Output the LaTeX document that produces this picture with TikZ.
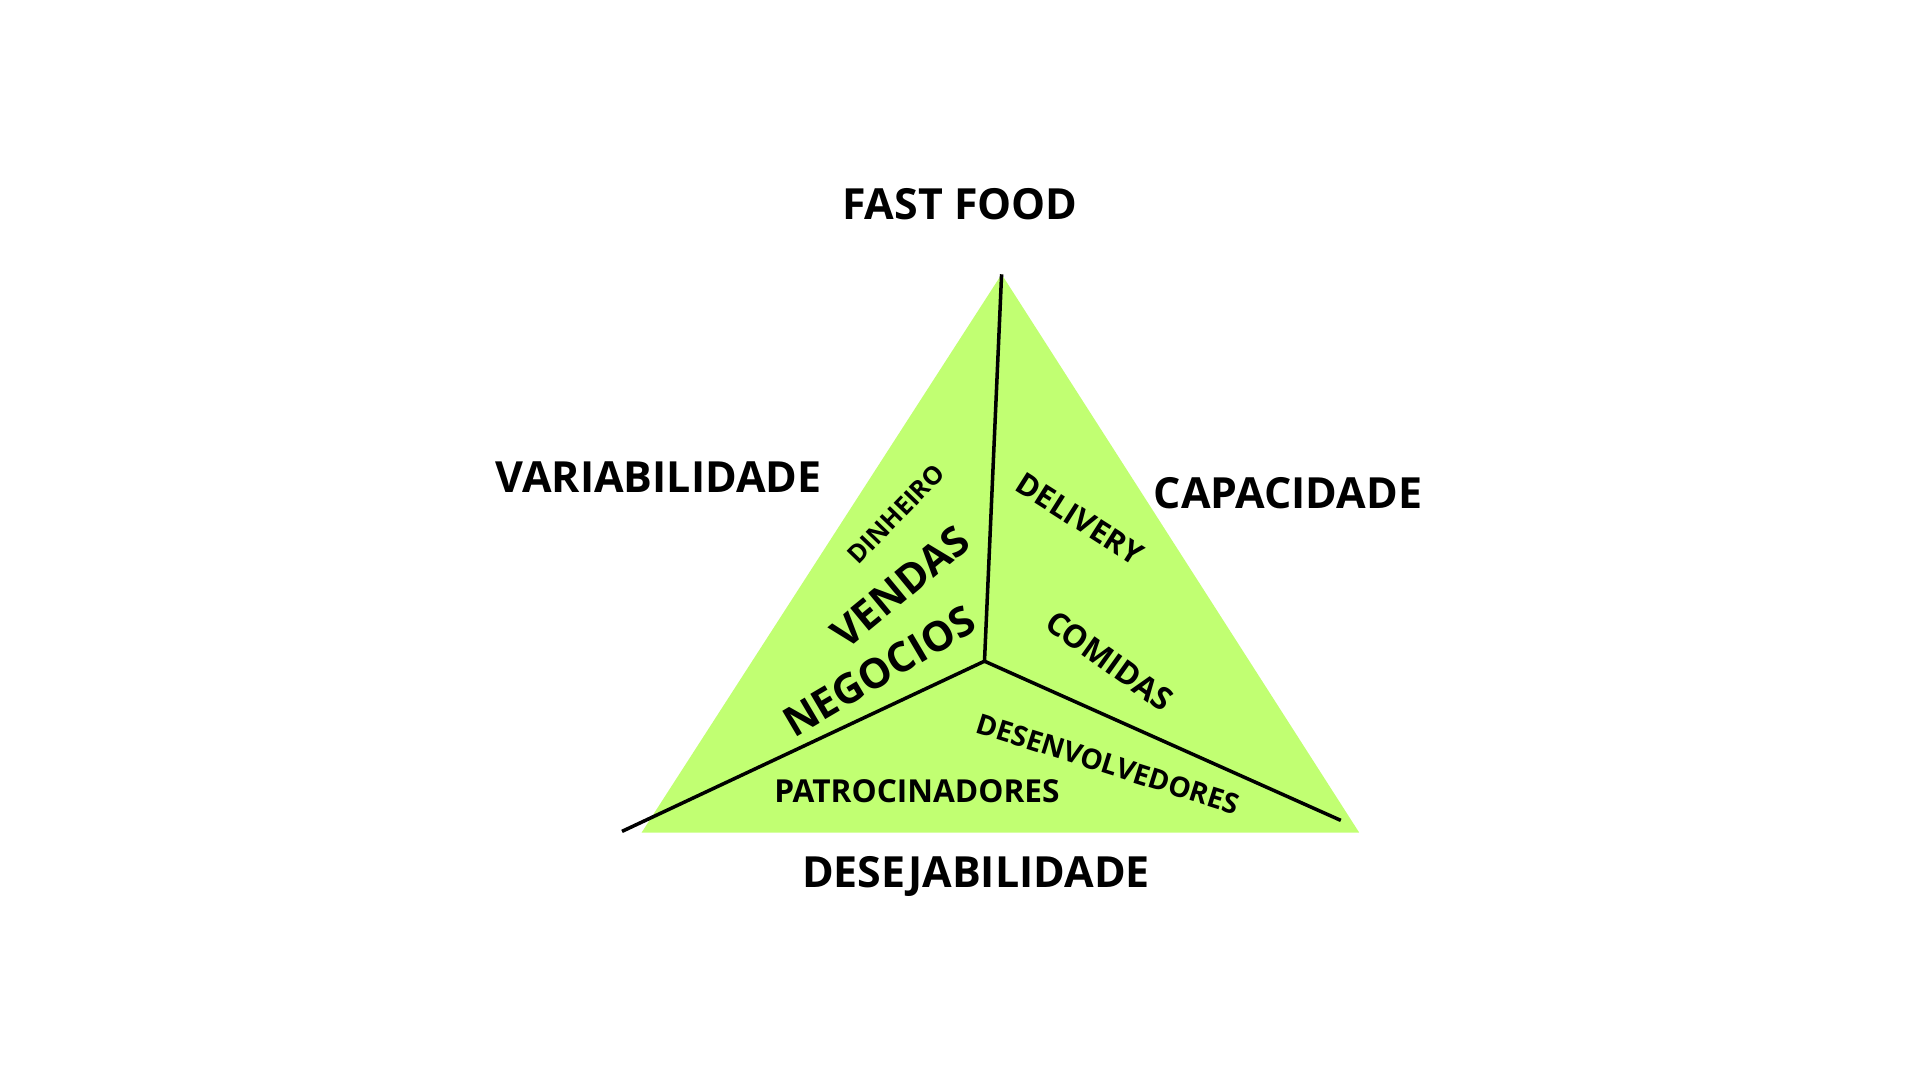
\documentclass[tikz,border=0pt]{standalone}
\usepackage{fontspec}
\setmainfont{Open Sans}
\usepackage{xcolor}
\usetikzlibrary{positioning, calc}
\definecolor{verdeclaro}{HTML}{C1FF72}

\begin{document}
\begin{tikzpicture}[x=0.01cm,y=-0.01cm,
    rotulo/.style={font=\bfseries\fontsize{12.2}{14}\selectfont},
    setor/.style={font=\bfseries\fontsize{9}{11}\selectfont},
    miudo/.style={font=\bfseries\fontsize{8}{9}\selectfont},
    grande/.style={font=\bfseries\fontsize{11.7}{14}\selectfont},
    divisa/.style={line width=1pt}]
  \useasboundingbox (0,0) rectangle (1920,1080);
  \coordinate (topo) at (1001.6,274.3);
  \coordinate (esq) at (622,831.4);
  \coordinate (dir) at (1340.8,820.4);
  \coordinate (centro) at (984.5,661.2);
  \fill[verdeclaro] (1001.6,274.3)--(641.6,832.6)--(1359.2,832.6)--cycle;%triangulo
  \draw[divisa] (centro)--(topo);
  \draw[divisa] (centro)--(esq);
  \draw[divisa] (centro)--(dir);
  % vertices e lados
  \node[rotulo] (fastfood) at (960,204.5) {FAST FOOD};
  \node[rotulo] (variab) at (658.8,477.6) {VARIABILIDADE};
  \node[rotulo] (capac) at (1288,493.5) {CAPACIDADE};
  \node[rotulo] (desej) at (976,876.7) {DESEJABILIDADE};
  % setores
  \node[miudo,rotate=46,font=\bfseries\fontsize{7.2}{9}\selectfont] (dinheiro) at (896,514) {DINHEIRO};
  \node[grande,rotate=39.5] (vendas) at (900,587) {VENDAS};
  \node[grande,rotate=30.5] (negocios) at (879,671) {NEGOCIOS};
  \node[setor,rotate=-32.4,font=\bfseries\fontsize{8.7}{10}\selectfont] (delivery) at (1080,519) {DELIVERY};
  \node[setor,rotate=-35.5] (comidas) at (1109.5,661) {COMIDAS};
  \node[miudo,rotate=-17.5] (desenv) at (1108,764) {DESENVOLVEDORES};
  \node[setor] (patroc) at (917,791) {PATROCINADORES};
\end{tikzpicture}
\end{document}
